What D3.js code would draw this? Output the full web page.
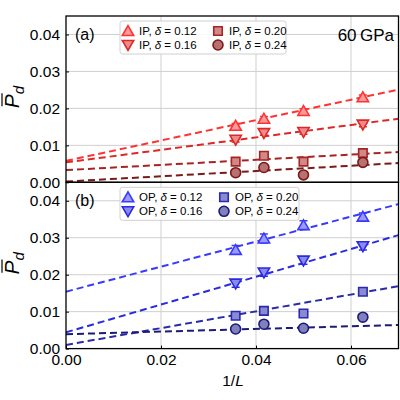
<!DOCTYPE html>
<html>
<head>
<meta charset="utf-8">
<script src="https://cdn.jsdelivr.net/npm/d3@7"></script>
<style>
  body { margin: 0; background: #fff; }
  svg { font-family: "Liberation Sans", Arial, sans-serif; }
</style>
</head>
<body>
<div id="chart"></div>
<script>
'use strict';

// 1/L for L = 28, 24, 20, 16
var invL = [1 / 28, 1 / 24, 1 / 20, 1 / 16];
var deltas = ['0.12', '0.16', '0.20', '0.24'];
var markers = ['up', 'down', 'square', 'circle'];

var ipValues = [
  [0.0153, 0.0172, 0.0193, 0.0230],
  [0.0115, 0.0133, 0.0136, 0.0156],
  [0.0056, 0.0072, 0.0056, 0.0079],
  [0.0026, 0.0040, 0.0020, 0.0054]
];
var ipErrors = [
  [0.0006, 0.0006, 0.0006, 0.0006],
  [0.0006, 0.0006, 0.0006, 0.0006],
  [0.0005, 0.0005, 0.0005, 0.0005],
  [0.0004, 0.0004, 0.0004, 0.0004]
];
// fit lines: value at 1/L = 0 and at 1/L = 0.07
var ipFitStart = [0.0058, 0.0054, 0.0033, 0.0002];
var ipFitEnd = [0.0251, 0.0172, 0.0082, 0.0052];

var opValues = [
  [0.0267, 0.0298, 0.0334, 0.0357],
  [0.0176, 0.0206, 0.0238, 0.0277],
  [0.0089, 0.0102, 0.0095, 0.0154],
  [0.0053, 0.0066, 0.0055, 0.0085]
];
var opErrors = [
  [0.0012, 0.0012, 0.0012, 0.0010],
  [0.0010, 0.0010, 0.0010, 0.0010],
  [0.0007, 0.0007, 0.0007, 0.0007],
  [0.0005, 0.0005, 0.0005, 0.0005]
];
var opFitStart = [0.0154, 0.0044, 0.0010, 0.0039];
var opFitEnd = [0.0391, 0.0307, 0.0169, 0.0064];

var xTicks = [0.00, 0.02, 0.04, 0.06];
var yTicks = [0.00, 0.01, 0.02, 0.03, 0.04];

var ipStroke = ['#ff3333', '#dd2828', '#a82424', '#7a1a1a'];
var ipFill = ['#ff9a9a', '#ee8a8a', '#d08888', '#b87070'];
var opStroke = ['#3a3aff', '#2a2ae0', '#2a2aaa', '#1c1c78'];
var opFill = ['#9a9aff', '#8a8aee', '#8a8ad4', '#8080bc'];

var W = 400, H = 400;
var left = 66, right = 398.5;

var svg = d3.select('#chart').append('svg').attr('width', W).attr('height', H);

var x = d3.scaleLinear().domain([0, 0.07]).range([left, right]);

function symbolFor(kind) {
  if (kind === 'up') return d3.symbol().type(d3.symbolTriangle).size(56)();
  if (kind === 'down') return d3.symbol().type(d3.symbolTriangle).size(56)();
  if (kind === 'square') return d3.symbol().type(d3.symbolSquare).size(72)();
  return d3.symbol().type(d3.symbolCircle).size(78)();
}

function drawMarker(g, kind, cx, cy, stroke, fill) {
  var rot = kind === 'down' ? 180 : 0;
  var dy = kind === 'up' ? 1.2 : (kind === 'down' ? -1.2 : 0);
  g.append('path')
    .attr('d', symbolFor(kind))
    .attr('transform', 'translate(' + cx + ',' + (cy + dy) + ') rotate(' + rot + ')')
    .attr('fill', fill)
    .attr('stroke', stroke)
    .attr('stroke-width', 1.6);
}

function panel(top, bottom, opts) {
  var y = d3.scaleLinear().domain([0, 0.045]).range([bottom, top]);
  var g = svg.append('g');

  // grid
  g.selectAll('.gx').data(xTicks.slice(1)).enter().append('line')
    .attr('x1', function (d) { return x(d); }).attr('x2', function (d) { return x(d); })
    .attr('y1', top).attr('y2', bottom)
    .attr('stroke', '#cfcfcf').attr('stroke-width', 1);
  g.selectAll('.gy').data(yTicks.slice(1)).enter().append('line')
    .attr('y1', function (d) { return y(d); }).attr('y2', function (d) { return y(d); })
    .attr('x1', left).attr('x2', right)
    .attr('stroke', '#cfcfcf').attr('stroke-width', 1);

  // y axis
  var yAxis = d3.axisLeft(y).tickValues(yTicks).tickFormat(d3.format('.2f')).tickSizeInner(-3).tickSizeOuter(0).tickPadding(6);
  var ya = g.append('g').attr('transform', 'translate(' + left + ',0)').call(yAxis);
  ya.select('.domain').remove();
  ya.selectAll('text').attr('font-size', 15.5).attr('fill', '#000');
  ya.selectAll('line').attr('stroke', '#000');

  if (opts.xLabels) {
    var xAxis = d3.axisBottom(x).tickValues(xTicks).tickFormat(d3.format('.2f')).tickSizeInner(-3).tickSizeOuter(0).tickPadding(5);
    var xa = g.append('g').attr('transform', 'translate(0,' + bottom + ')').call(xAxis);
    xa.select('.domain').remove();
    xa.selectAll('text').attr('font-size', 15.5).attr('fill', '#000');
    xa.selectAll('line').attr('stroke', '#000');
  }

  // fit lines
  var line = d3.line().x(function (d) { return x(d[0]); }).y(function (d) { return y(d[1]); });
  var clipId = 'clip' + opts.name;
  svg.append('clipPath').attr('id', clipId).append('rect')
    .attr('x', left).attr('y', top).attr('width', right - left).attr('height', bottom - top);
  var plot = g.append('g').attr('clip-path', 'url(#' + clipId + ')');

  opts.values.forEach(function (vals, i) {
    plot.append('path')
      .attr('d', line([[0, opts.fitStart[i]], [0.07, opts.fitEnd[i]]]))
      .attr('fill', 'none')
      .attr('stroke', opts.stroke[i])
      .attr('stroke-width', 2)
      .attr('stroke-dasharray', '7,4');
  });

  // error bars and markers
  opts.values.forEach(function (vals, i) {
    vals.forEach(function (v, j) {
      var cx = x(invL[j]);
      var e = opts.errors[i][j];
      plot.append('line')
        .attr('x1', cx).attr('x2', cx).attr('y1', y(v - e)).attr('y2', y(v + e))
        .attr('stroke', opts.stroke[i]).attr('stroke-width', 1.5);
      [v - e, v + e].forEach(function (ev) {
        plot.append('line')
          .attr('x1', cx - 4).attr('x2', cx + 4).attr('y1', y(ev)).attr('y2', y(ev))
          .attr('stroke', opts.stroke[i]).attr('stroke-width', 1.5);
      });
    });
  });
  opts.values.forEach(function (vals, i) {
    vals.forEach(function (v, j) {
      drawMarker(plot, markers[i], x(invL[j]), y(v), opts.stroke[i], opts.fill[i]);
    });
  });

  // frame
  g.append('rect').attr('x', left).attr('y', top).attr('width', right - left).attr('height', bottom - top)
    .attr('fill', 'none').attr('stroke', '#000').attr('stroke-width', 1.3);

  // panel tag
  g.append('text').attr('x', 75).attr('y', top + 24).attr('font-size', 16).text(opts.tag);

  // legend
  var lg = g.append('g');
  lg.append('rect')
    .attr('x', 120).attr('y', top + 5).attr('width', opts.legendW).attr('height', 33)
    .attr('rx', 2.5).attr('fill', 'rgba(255,255,255,0.85)').attr('stroke', '#d0d0d0').attr('stroke-width', 1);
  deltas.forEach(function (d, i) {
    var col = Math.floor(i / 2), row = i % 2;
    var mx = col === 0 ? 128 : opts.col2;
    var my = top + 15 + row * 14;
    drawMarker(lg, markers[i], mx, my, opts.stroke[i], opts.fill[i]);
    var t = lg.append('text').attr('x', mx + 11).attr('y', my + 4).attr('font-size', 11.5);
    t.append('tspan').text(opts.prefix + ', ');
    t.append('tspan').attr('font-style', 'italic').text('\u03b4');
    t.append('tspan').text(' = ' + d);
  });

  // y label, P with overline and subscript d
  var lgY = svg.append('g')
    .attr('transform', 'translate(19,' + ((top + bottom) / 2 - 2) + ') rotate(-90)');
  var yl = lgY.append('text').attr('text-anchor', 'middle').attr('font-size', 21);
  yl.append('tspan').attr('font-style', 'italic').text('P');
  yl.append('tspan').attr('font-style', 'italic').attr('font-size', 15).attr('dy', 5).text('d');
  var ext = yl.node().getExtentOfChar(0);
  lgY.append('line')
    .attr('x1', ext.x + 2).attr('x2', ext.x + ext.width + 1)
    .attr('y1', ext.y + 2).attr('y2', ext.y + 2)
    .attr('stroke', '#000').attr('stroke-width', 1.2);

  return g;
}

panel(16, 182.3, {
  name: 'a', tag: '(a)', prefix: 'IP', values: ipValues, errors: ipErrors,
  fitStart: ipFitStart, fitEnd: ipFitEnd, stroke: ipStroke, fill: ipFill,
  legendW: 166, col2: 218, xLabels: false
});
panel(182.3, 348.6, {
  name: 'b', tag: '(b)', prefix: 'OP', values: opValues, errors: opErrors,
  fitStart: opFitStart, fitEnd: opFitEnd, stroke: opStroke, fill: opFill,
  legendW: 179, col2: 224, xLabels: true
});

svg.append('text').attr('x', 394).attr('y', 41).attr('text-anchor', 'end').attr('font-size', 17).text('60\u2009GPa');

var xl = svg.append('text').attr('x', 233).attr('y', 386).attr('text-anchor', 'middle').attr('font-size', 15.5);
xl.append('tspan').text('1/');
xl.append('tspan').attr('font-style', 'italic').text('L');
</script>
</body>
</html>
